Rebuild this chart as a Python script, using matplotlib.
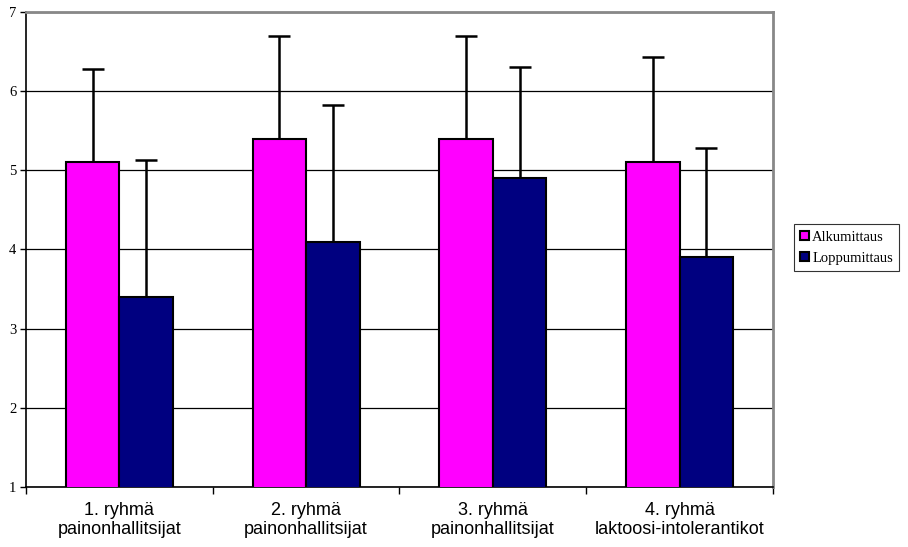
import numpy as np
import matplotlib
matplotlib.use('Agg')
import matplotlib.pyplot as plt

groups = ['1. ryhmä\npainonhallitsijat', '2. ryhmä\npainonhallitsijat',
          '3. ryhmä\npainonhallitsijat', '4. ryhmä\nlaktoosi-intolerantikot']
alku = [5.1, 5.4, 5.4, 5.1]
alku_err = [1.18, 1.30, 1.30, 1.33]
loppu = [3.4, 4.1, 4.9, 3.9]
loppu_err = [1.73, 1.73, 1.41, 1.38]
yticks = [1, 2, 3, 4, 5, 6, 7]

fig = plt.figure(figsize=(9.08, 5.47), dpi=100)
ax = fig.add_axes([0.0286, 0.1097, 0.8227, 0.8684])

x = np.arange(len(groups))
w = 0.286
series = [(x - w / 2, alku, alku_err, '#FF00FF', 'Alkumittaus'),
          (x + w / 2, loppu, loppu_err, '#000080', 'Loppumittaus')]
for xs, vals, err, col, lab in series:
    ax.bar(xs, vals, w, bottom=0, color=col, edgecolor='black', lw=1.5, label=lab, zorder=3)
    # upper-only error bars with a cap at the top
    tops = np.array(vals) + np.array(err)
    ax.vlines(xs, vals, tops, color='black', lw=1.8, zorder=4)
    ax.plot(xs, tops, ls='none', marker='_', ms=16, mew=1.8, color='black', zorder=4)

ax.set_xlim(-0.5, 3.5)
ax.set_ylim(1, 7)
ax.set_yticks(yticks)
ax.set_yticklabels([str(t) for t in yticks], family='Liberation Serif', fontsize=10.5)
ax.yaxis.grid(True, color='black', lw=0.9, zorder=0)
ax.set_xticks(x)
ax.set_xticklabels(groups, family='Liberation Sans', fontsize=13, linespacing=1.15)
ax.tick_params(axis='x', length=0, pad=11)
ax.set_xticks(np.arange(-0.5, 4.0, 1.0), minor=True)
ax.tick_params(axis='x', which='minor', length=5, width=1, color='black', direction='out')
ax.tick_params(axis='y', length=4, width=1, pad=3)
for s in ('top', 'right'):
    ax.spines[s].set_color('#888888')
    ax.spines[s].set_linewidth(2)
for s in ('left', 'bottom'):
    ax.spines[s].set_color('black')
    ax.spines[s].set_linewidth(1.2)

leg = ax.legend(loc='center left', bbox_to_anchor=(1.028, 0.504), frameon=True, fancybox=False,
                edgecolor='black', prop={'family': 'Liberation Serif', 'size': 10.5},
                handlelength=0.6, handleheight=0.6, handletextpad=0.2, borderpad=0.45,
                labelspacing=0.55, borderaxespad=0)
leg.get_frame().set_linewidth(0.8)

plt.savefig('out.png', dpi=100)
